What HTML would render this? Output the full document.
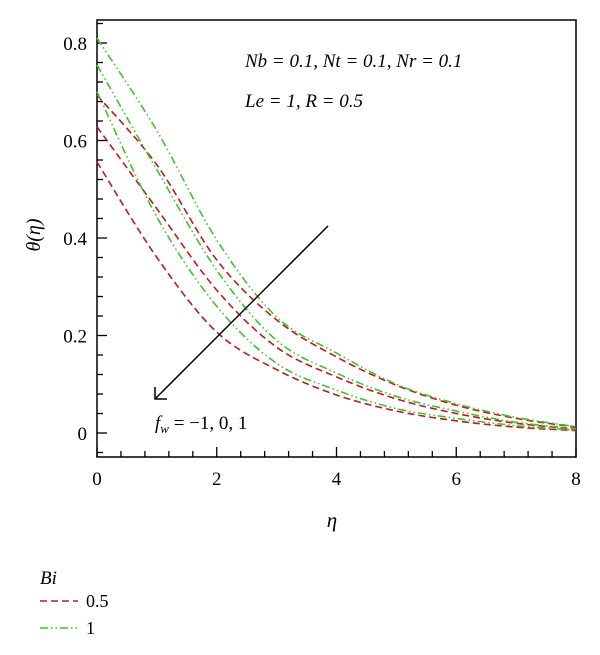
<!DOCTYPE html>
<html><head><meta charset="utf-8"><style>
body{margin:0;background:#fff;}
svg{display:block;font-family:"Liberation Serif",serif;}
</style></head><body>
<svg width="600" height="655" xmlns="http://www.w3.org/2000/svg">
<g id="frame"></g>
<g id="curves"></g>
<text x="245" y="67" font-size="19" font-style="italic">Nb = 0.1, Nt = 0.1, Nr = 0.1</text>
<text x="245" y="107" font-size="19" font-style="italic">Le = 1, R = 0.5</text>
<line x1="328" y1="226" x2="155" y2="399" stroke="#000" stroke-width="1.5"/>
<polyline points="155,387 155,399 167,399" fill="none" stroke="#000" stroke-width="1.5"/>
<text x="155" y="429" font-size="19"><tspan font-style="italic">f</tspan><tspan font-style="italic" font-size="13" dy="4">w</tspan><tspan dy="-4"> = −1, 0, 1</tspan></text>
<text x="40" y="235" font-size="20" font-style="italic" transform="rotate(-90 40 235)" text-anchor="middle">θ(η)</text>
<text x="332" y="527" font-size="21" font-style="italic" text-anchor="middle">η</text>
<text x="40" y="584" font-size="19" font-style="italic">Bi</text>
<g>
<line x1="40" y1="601" x2="78" y2="601" stroke="#c0191e" stroke-width="1.6" stroke-dasharray="7,4"/>
<text x="86" y="607" font-size="18">0.5</text></g>
<g>
<line x1="40" y1="628" x2="78" y2="628" stroke="#3ec428" stroke-width="1.6" stroke-dasharray="8,3,1.5,3,1.5,3"/>
<text x="86" y="634" font-size="18">1</text></g>
</svg>
<script>
const etas=[0,1,2,3,4,5,6,7,8];
const red1=[0.693,0.55,0.355,0.232,0.156,0.098,0.057,0.03,0.012];
const red2=[0.628,0.46,0.293,0.176,0.115,0.07,0.04,0.02,0.008];
const red3=[0.556,0.36,0.207,0.13,0.078,0.045,0.025,0.012,0.005];
const green1=[0.81,0.62,0.396,0.238,0.164,0.1,0.06,0.032,0.013];
const green2=[0.755,0.54,0.334,0.19,0.123,0.075,0.045,0.022,0.009];
const green3=[0.70,0.443,0.26,0.143,0.088,0.05,0.03,0.015,0.006];
const xTicks=["0","2","4","6","8"];
const yTicks=["0","0.2","0.4","0.6","0.8"];
const X0=97,X1=576,Y0=457,Y1=20;
const xs=v=>X0+(v-0)/8*(X1-X0);
const ys=v=>433-v*487.5;
const NS="http://www.w3.org/2000/svg";
const fr=document.getElementById('frame');
function mk(t,a,p){const e=document.createElementNS(NS,t);for(const k in a)e.setAttribute(k,a[k]);p.appendChild(e);return e;}
const box=mk('rect',{x:X0,y:Y1,width:X1-X0,height:Y0-Y1,fill:'none',stroke:'#000','stroke-width':1.5},fr);


for(let i=0;i<=20;i++){const v=i*0.4;const x=xs(v);const maj=i%5==0;
 const t=mk('line',{x1:x,x2:x,y1:Y0,y2:Y0-(maj?10:6),stroke:'#000','stroke-width':1.3},fr);
 
 }
xTicks.forEach(s=>{const t=mk('text',{x:xs(+s),y:485,'font-size':19,'text-anchor':'middle'},fr);t.textContent=s;
 
 });
for(let i=-1;i<=21;i++){const v=i*0.04;const y=ys(v);if(y>Y0||y<Y1)continue;const maj=i%5==0;
 const t=mk('line',{x1:X0,x2:X0+(maj?10:6),y1:y,y2:y,stroke:'#000','stroke-width':1.3},fr);
 
 }
yTicks.forEach(s=>{const t=mk('text',{x:87,y:ys(+s)+7,'font-size':19,'text-anchor':'end'},fr);t.textContent=s;
 
 });
function path(vals){const p=vals.map((v,i)=>[xs(etas[i]),ys(v)]);let d='M'+p[0][0]+','+p[0][1];
 for(let i=0;i<p.length-1;i++){const a=p[i-1]||p[i],b=p[i],c=p[i+1],e=p[i+2]||c;
  d+=' C'+(b[0]+(c[0]-a[0])/6)+','+(b[1]+(c[1]-a[1])/6)+' '+(c[0]-(e[0]-b[0])/6)+','+(c[1]-(e[1]-b[1])/6)+' '+c[0]+','+c[1];}
 return d;}
const cg=document.getElementById('curves');
[[red1,'red-fw-minus1'],[red2,'red-fw-0'],[red3,'red-fw-1']].forEach(([v,n])=>{
 const e=mk('path',{d:path(v),fill:'none',stroke:'#c0191e','stroke-width':1.6,'stroke-dasharray':'7,4'},cg);
 
 });
[[green1,'green-fw-minus1'],[green2,'green-fw-0'],[green3,'green-fw-1']].forEach(([v,n])=>{
 const e=mk('path',{d:path(v),fill:'none',stroke:'#3ec428','stroke-width':1.6,'stroke-dasharray':'8,3,1.5,3,1.5,3'},cg);
 
 });
</script>
</body></html>
